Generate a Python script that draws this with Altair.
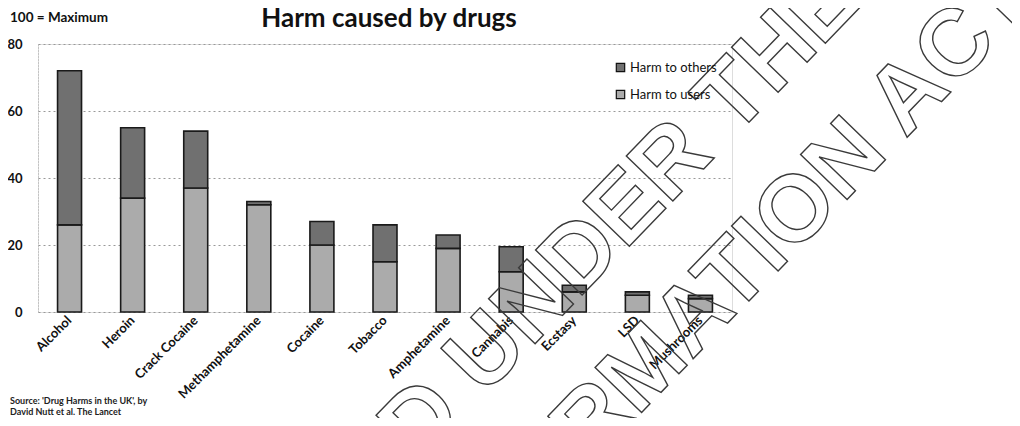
import altair as alt
import pandas as pd

drugs = ["Alcohol", "Heroin", "Crack Cocaine", "Methamphetamine", "Cocaine", "Tobacco",
         "Amphetamine", "Cannabis", "Ecstasy", "LSD", "Mushrooms"]
harm_users = [26, 34, 37, 32, 20, 15, 19, 12, 6, 5, 4]
harm_others = [46, 21, 17, 1, 7, 11, 4, 7.5, 2, 1, 1]
series = ["Harm to others", "Harm to users"]
y_ticks = [0, 20, 40, 60, 80]
source_lines = ["Source: 'Drug Harms in the UK', by", "David Nutt et al. The Lancet"]
stamp_lines = ["RELEASED UNDER THE", "FREEDOM OF INFORMATION ACT"]

rows = []
for d, u, o in zip(drugs, harm_users, harm_others):
    rows.append({"drug": d, "series": "Harm to users", "value": u, "ord": 0})
    rows.append({"drug": d, "series": "Harm to others", "value": o, "ord": 1})
df = pd.DataFrame(rows)

FONT = "Lato"

bars = alt.Chart(df).mark_bar(stroke="#1a1a1a", strokeWidth=1.6).encode(
    x=alt.X("drug:N", sort=drugs,
            scale=alt.Scale(paddingInner=0.62, paddingOuter=0.31),
            axis=alt.Axis(title=None, labelAngle=-45, labelAlign="right", labelBaseline="middle",
                          labelFont=FONT, labelFontSize=13, labelFontWeight="bold",
                          labelColor="#111", ticks=False, domain=False, labelPadding=6,
                          labelOverlap=False, labelLimit=200)),
    y=alt.Y("value:Q", stack="zero",
            scale=alt.Scale(domain=[0, 80], nice=False),
            axis=alt.Axis(title=None, values=y_ticks, labelFont=FONT, labelFontSize=13,
                          labelFontWeight="bold", labelColor="#111", ticks=False,
                          labelPadding=16, domain=True, domainColor="#aaa",
                          domainDash=[1, 2], grid=True, gridColor="#999",
                          gridDash=[2, 3], gridWidth=1)),
    color=alt.Color("series:N", sort=series,
                    scale=alt.Scale(domain=series, range=["#707070", "#ababab"]),
                    legend=alt.Legend(title=None, orient="none", legendX=576, legendY=17,
                                      symbolType="square", symbolSize=70,
                                      symbolStrokeColor="#111", symbolStrokeWidth=1.2,
                                      labelFont=FONT, labelFontSize=13, labelColor="#111",
                                      rowPadding=12, labelOffset=3)),
    order=alt.Order("ord:Q"),
)


def label(text, x, y, size, weight="bold", align="left", color="#111", font=FONT):
    return alt.Chart(pd.DataFrame({"t": [text]})).mark_text(
        align=align, baseline="middle", font=font, fontSize=size, fontWeight=weight,
        color=color
    ).encode(text="t:N", x=alt.value(x), y=alt.value(y))


note = label("100 = Maximum", -28, -26, 13.5)
title = label("Harm caused by drugs", 351, -25, 26, align="center")
src1 = label(source_lines[0], -28, 357, 9, color="#222")
src2 = label(source_lines[1], -28, 368, 9, color="#222")


def stamp(text, x, y):
    return alt.Chart(pd.DataFrame({"t": [text]})).mark_text(
        align="center", baseline="middle", font="Liberation Sans", fontSize=94,
        fontWeight="bold", angle=314, fillOpacity=0, stroke="#3a3a3a", strokeWidth=1.4
    ).encode(text="t:N", x=alt.value(x), y=alt.value(y))


wm1 = stamp(stamp_lines[0], 429, 330)
wm2 = stamp(stamp_lines[1], 452, 485)

chart = alt.layer(bars, note, title, src1, src2, wm1, wm2).properties(
    width=694, height=268,
    autosize=alt.AutoSizeParams(type="none"),
    padding={"left": 30, "top": 36, "right": 280, "bottom": 106},
).configure_view(strokeOpacity=0).configure(background="white")

chart.save("out.html", embed_options={"renderer": "svg", "actions": False})
